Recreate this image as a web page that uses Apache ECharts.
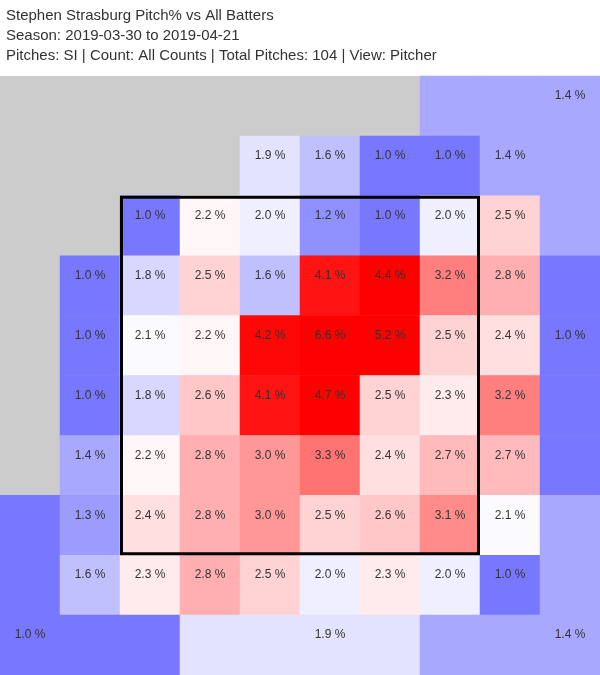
<!DOCTYPE html>
<html>
<head>
<meta charset="utf-8">
<script src="https://cdn.jsdelivr.net/npm/echarts@6/dist/echarts.min.js"></script>
<style>
  html, body { margin: 0; padding: 0; background: #fff; }
  #chart { width: 600px; height: 675px; }
</style>
</head>
<body>
<div id="chart"></div>
<script>
// pitcher view, 10x10 cells, top row first
// null = no data (gray), letters = outer zone shared by several cells
const cellRows = [
  [null, null, null, null, null, null, null, 'TR', 'TR', 'TR'],
  [null, null, null, null, 1.9, 1.6, 1.0, 1.0, 1.4, 'TR'],
  [null, null, 1.0, 2.2, 2.0, 1.2, 1.0, 2.0, 2.5, 'TR'],
  [null, 1.0, 1.8, 2.5, 1.6, 4.1, 4.4, 3.2, 2.8, 'R'],
  [null, 1.0, 2.1, 2.2, 4.2, 6.6, 5.2, 2.5, 2.4, 'R'],
  [null, 1.0, 1.8, 2.6, 4.1, 4.7, 2.5, 2.3, 3.2, 'R'],
  [null, 1.4, 2.2, 2.8, 3.0, 3.3, 2.4, 2.7, 2.7, 'R'],
  ['BL', 1.3, 2.4, 2.8, 3.0, 2.5, 2.6, 3.1, 2.1, 'BR'],
  ['BL', 1.6, 2.3, 2.8, 2.5, 2.0, 2.3, 2.0, 1.0, 'BR'],
  ['BL', 'BL', 'BL', 'B', 'B', 'B', 'B', 'BR', 'BR', 'BR']
]
const regionValues = { TR: 1.4, R: 1.0, BL: 1.0, B: 1.9, BR: 1.4 }
// [col, row] where the outer zone's label sits
const regionLabelCells = { TR: [9, 0], R: [9, 4], BL: [0, 9], B: [5, 9], BR: [9, 9] }
// strike zone: [firstCol, lastCol, firstRow, lastRow]
const strikeZone = [2, 7, 2, 7]

const cols = ['0', '1', '2', '3', '4', '5', '6', '7', '8', '9']
const rows = ['0', '1', '2', '3', '4', '5', '6', '7', '8', '9']

let heatData = []
cellRows.forEach((row, r) => {
  row.forEach((cell, c) => {
    if (cell === null) return
    if (typeof cell === 'string') {
      let at = regionLabelCells[cell]
      let showLabel = at[0] === c && at[1] === r
      heatData.push({ value: [c, r, regionValues[cell]], label: { show: showLabel } })
    } else {
      heatData.push({ value: [c, r, cell] })
    }
  })
})

let chart = echarts.init(document.getElementById('chart'), null, { renderer: 'canvas' })

chart.setOption({
  animation: false,
  title: {
    left: 1,
    top: 1,
    text: 'Stephen Strasburg Pitch% vs All Batters\nSeason: 2019-03-30 to 2019-04-21\nPitches: SI | Count: All Counts | Total Pitches: 104 | View: Pitcher',
    textStyle: {
      fontFamily: 'Liberation Sans, Arial, sans-serif',
      fontSize: 15,
      fontWeight: 'normal',
      color: '#333',
      lineHeight: 20
    }
  },
  grid: {
    left: 0,
    right: 0,
    top: 76,
    bottom: -1,
    show: true,
    backgroundColor: '#cccccc',
    borderWidth: 0
  },
  xAxis: {
    type: 'category',
    data: cols,
    show: false
  },
  yAxis: {
    type: 'category',
    data: rows,
    inverse: true,
    show: false
  },
  visualMap: {
    show: false,
    min: 0,
    max: 4.26,
    dimension: 2,
    seriesIndex: 0,
    inRange: { color: ['#0000ff', '#ffffff', '#ff0000'] }
  },
  series: [
    {
      type: 'heatmap',
      data: heatData,
      label: {
        show: true,
        offset: [0, -10],
        fontFamily: 'Liberation Sans, Arial, sans-serif',
        fontSize: 12,
        color: '#333',
        formatter: p => p.value[2].toFixed(1) + ' %'
      },
      itemStyle: { borderWidth: 0 },
      emphasis: { disabled: true }
    },
    {
      // strike zone outline, stroke kept inside the cell edges
      type: 'custom',
      data: [strikeZone],
      silent: true,
      z: 10,
      renderItem (params, api) {
        let tl = api.coord([api.value(0), api.value(2)])
        let br = api.coord([api.value(1), api.value(3)])
        let size = api.size([1, 1])
        let lw = 3
        return {
          type: 'rect',
          shape: {
            x: tl[0] - size[0] / 2 + lw / 2,
            y: tl[1] - size[1] / 2 + lw / 2,
            width: br[0] - tl[0] + size[0] - lw,
            height: br[1] - tl[1] + size[1] - lw
          },
          style: { fill: null, stroke: '#000', lineWidth: lw }
        }
      }
    }
  ]
})
</script>
</body>
</html>
